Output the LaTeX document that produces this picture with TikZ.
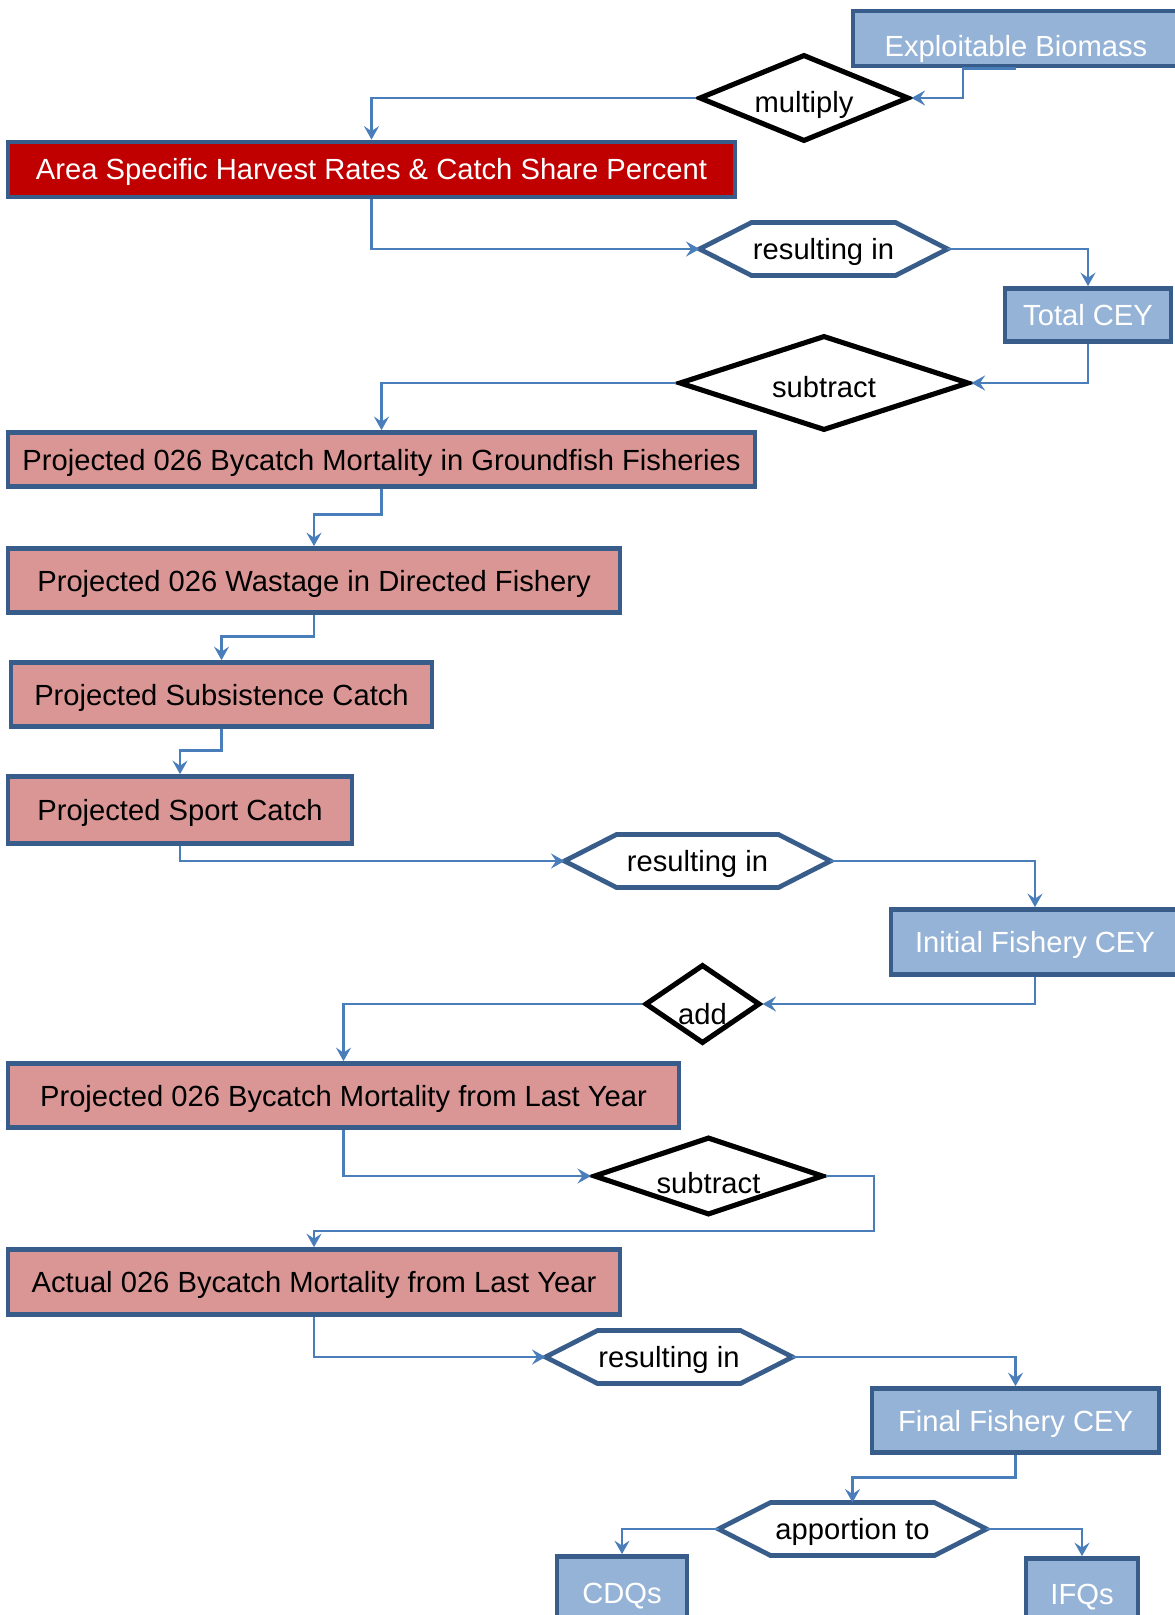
\documentclass[tikz,border=0pt]{standalone}
\usepackage{fontspec}
\setmainfont{Liberation Sans}
\usepackage{xcolor}
\usepackage{tikz}
\usetikzlibrary{shapes.geometric,arrows.meta}

\definecolor{boxline}{RGB}{56,93,138}
\definecolor{cellblue}{RGB}{149,179,215}
\definecolor{cellpink}{RGB}{217,150,148}
\definecolor{cellred}{RGB}{192,0,0}
\definecolor{linkblue}{RGB}{74,126,187}

\tikzstyle{box} = [
    rectangle,
    draw=boxline,
    line width=2.7pt,
    inner sep=0pt,
    text height=0.54cm,
    text depth=0.12cm,
    minimum height=1.1cm
    ]
\tikzstyle{result} = [box, fill=cellblue, text=white]
\tikzstyle{deduct} = [box, fill=cellpink, text=black]
\tikzstyle{rate} = [box, fill=cellred, text=white]
\tikzstyle{operation} = [
    diamond,
    draw=black,
    line width=2.9pt,
    fill=white,
    text height=0.7cm,
    text depth=0.12cm,
    inner sep=0pt
    ]
\tikzstyle{outcome} = [rectangle, inner sep=0pt, outer sep=0pt, text height=0.54cm, text depth=0.12cm, minimum height=1.06cm]
\tikzstyle{hexline} = [draw=boxline, line width=2.7pt, line join=miter]
\tikzstyle{arrowline} = [draw=linkblue, line width=1.6pt, -{Stealth[length=0.27cm,width=0.3cm,inset=0.1cm]}]

% hexagon outline round an outcome node
\newcommand{\hexframe}[1]{\draw[hexline] (#1.west) -- ([xshift=1.04cm]#1.north west) -- ([xshift=-1.04cm]#1.north east) -- (#1.east) -- ([xshift=-1.04cm]#1.south east) -- ([xshift=1.04cm]#1.south west) -- cycle;}

\begin{document}
\begin{tikzpicture}[x=0.02cm, y=-0.02cm, font=\fontsize{16.6}{19}\selectfont]
        \useasboundingbox (0,0) rectangle (1175,1615);
        \clip (0,0) rectangle (1175,1615);
        \fill[white] (0,0) rectangle (1175,1615);

        \node (biomass) [result, minimum width=6.52cm, text height=0.86cm, text depth=0.12cm] at (1016,38.5) {Exploitable Biomass};
        \node (multiply) [operation, aspect=2.4, minimum width=4.2cm, minimum height=1.74cm] at (804,98) {multiply};
        \node (rates) [rate, minimum width=14.54cm] at (371.5,169.5) {Area Specific Harvest Rates \& Catch Share Percent};
        \node (result1) [outcome, minimum width=4.96cm] at (823.5,249) {resulting in};
        \node (total) [result, minimum width=3.32cm, minimum height=1.06cm] at (1088,315) {Total CEY};
        \node (subtract1) [operation, aspect=3.05, minimum width=5.8cm, minimum height=1.9cm] at (824,383) {subtract};
        \node (groundfish) [deduct, minimum width=14.94cm, minimum height=1.08cm] at (381.5,459.5) {Projected 026 Bycatch Mortality in Groundfish Fisheries};
        \node (wastage) [deduct, minimum width=12.24cm, minimum height=1.28cm] at (314,580.5) {Projected 026 Wastage in Directed Fishery};
        \node (subsistence) [deduct, minimum width=8.42cm, minimum height=1.28cm] at (221.5,694.5) {Projected Subsistence Catch};
        \node (sport) [deduct, minimum width=6.88cm, minimum height=1.34cm] at (180,810) {Projected Sport Catch};
        \node (result2) [outcome, minimum width=5.32cm] at (697.5,861) {resulting in};
        \node (initial) [result, minimum width=5.76cm, minimum height=1.3cm] at (1035,942) {Initial Fishery CEY};
        \node (add) [operation, aspect=1.47, minimum width=2.3cm, minimum height=1.58cm, text height=0.8cm, text depth=0pt] at (702.5,1004) {add};
        \node (lastproj) [deduct, minimum width=13.42cm, minimum height=1.28cm] at (343.5,1095.5) {Projected 026 Bycatch Mortality from Last Year};
        \node (subtract2) [operation, aspect=3, minimum width=4.6cm, minimum height=1.56cm, text height=0.7cm, text depth=0pt] at (708.5,1176) {subtract};
        \node (actual) [deduct, minimum width=12.24cm, minimum height=1.3cm] at (314,1282) {Actual 026 Bycatch Mortality from Last Year};
        \node (result3) [outcome, minimum width=4.94cm] at (669,1357) {resulting in};
        \node (final) [result, minimum width=5.74cm, minimum height=1.28cm] at (1015.5,1420.5) {Final Fishery CEY};
        \node (apportion) [outcome, minimum width=5.36cm] at (852.5,1529) {apportion to};
        \node (cdq) [result, minimum width=2.6cm, minimum height=1.3cm, text height=0.56cm, text depth=0pt] at (622,1589) {CDQs};
        \node (ifq) [result, minimum width=2.24cm, minimum height=1.26cm, text height=0.56cm, text depth=0pt] at (1082,1590) {IFQs};

        % Hexagons
        \hexframe{result1}
        \hexframe{result2}
        \hexframe{result3}
        \hexframe{apportion}

        % Lines
        \draw[arrowline] (biomass.south) -- ++(-53,0) |- (multiply.east);
        \draw[arrowline] (multiply.west) -| (rates.north);
        \draw[arrowline] (rates.south) |- (result1.west);
        \draw[arrowline] (result1.east) -| (total.north);
        \draw[arrowline] (total.south) |- (subtract1.east);
        \draw[arrowline] (subtract1.west) -| (groundfish.north);
        \draw[arrowline] (groundfish.south) -- ++(0,26) -| (wastage.north);
        \draw[arrowline] (wastage.south) -- ++(0,22) -| (subsistence.north);
        \draw[arrowline] (subsistence.south) -- ++(0,22) -| (sport.north);
        \draw[arrowline] (sport.south) |- (result2.west);
        \draw[arrowline] (result2.east) -| (initial.north);
        \draw[arrowline] (initial.south) |- (add.east);
        \draw[arrowline] (add.west) -| (lastproj.north);
        \draw[arrowline] (lastproj.south) |- (subtract2.west);
        \draw[arrowline] (subtract2.east) -- ++(48,0) -- ++(0,55) -| (actual.north);
        \draw[arrowline] (actual.south) |- (result3.west);
        \draw[arrowline] (result3.east) -| (final.north);
        \draw[arrowline] (final.south) -- ++(0,23) -| (apportion.north);
        \draw[arrowline] (apportion.west) -| (cdq.north);
        \draw[arrowline] (apportion.east) -| (ifq.north);

    \end{tikzpicture}
\end{document}
